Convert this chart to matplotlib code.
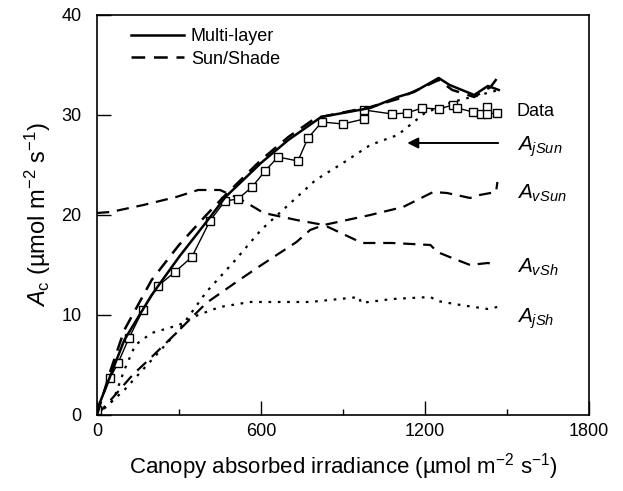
import matplotlib
matplotlib.use("Agg")
import matplotlib.pyplot as plt
from matplotlib.ticker import MultipleLocator

plt.rcParams['font.family'] = ['Liberation Sans', 'DejaVu Sans']
plt.rcParams['mathtext.fontset'] = 'custom'
plt.rcParams['mathtext.rm'] = 'Liberation Sans'
plt.rcParams['mathtext.it'] = 'Liberation Sans:italic'

# Measured data (squares)
data_x = [0, 48, 77, 117, 168, 223, 285, 347, 413, 468, 516, 567, 615, 662, 735,
          772, 823, 900, 977, 977, 1080, 1134, 1189, 1251, 1302, 1317, 1376, 1405,
          1427, 1427, 1464]
data_y = [0.5, 3.7, 5.2, 7.7, 10.5, 12.9, 14.3, 15.8, 19.4, 21.4, 21.6, 22.8, 24.4,
          25.8, 25.4, 27.7, 29.3, 29.1, 29.6, 30.5, 30.1, 30.2, 30.7, 30.6, 31.0,
          30.7, 30.3, 30.1, 30.8, 30.1, 30.2]

# Multi-layer model (total)
multi_x = [0, 50, 100, 200, 300, 400, 470, 600, 700, 820, 1000, 1100, 1160, 1250,
           1290, 1380, 1430, 1470]
multi_y = [0.5, 4.0, 7.5, 12.0, 15.8, 19.3, 21.8, 25.2, 27.5, 29.8, 30.7, 31.8,
           32.3, 33.7, 33.0, 32.0, 32.9, 32.5]

# Sun/Shade model (total)
sunsh_x = [0, 50, 100, 200, 300, 400, 470, 600, 700, 800, 1000, 1100, 1250, 1300,
           1380, 1440, 1470]
sunsh_y = [0, 4.5, 8.5, 13.5, 17.0, 20.0, 22.0, 25.5, 27.8, 29.7, 30.8, 31.6, 33.5,
           32.5, 31.8, 32.8, 33.9]

# Components
jsun_x = [0, 100, 200, 300, 400, 500, 600, 700, 800, 900, 1000, 1100, 1200, 1300,
          1400, 1470]
jsun_y = [0, 2.5, 5.5, 8.5, 12.3, 15.3, 18.5, 21.0, 23.5, 25.2, 27.0, 28.0, 30.2,
          31.3, 32.0, 32.5]

vsun_x = [0, 60, 130, 200, 290, 400, 510, 585, 730, 780, 830, 1000, 1120, 1230,
          1280, 1365, 1400, 1460, 1465]
vsun_y = [0, 1.8, 4.0, 5.8, 8.2, 11.2, 13.3, 14.7, 17.3, 18.5, 19.0, 20.0, 20.8,
          22.3, 22.2, 21.7, 22.0, 22.3, 23.3]

vsh_x = [0, 50, 170, 290, 370, 450, 530, 610, 730, 830, 970, 1080, 1220, 1245,
         1290, 1365, 1430, 1465]
vsh_y = [20.2, 20.3, 21.0, 21.8, 22.5, 22.5, 21.5, 20.2, 19.5, 19.0, 17.2, 17.2,
         17.0, 16.3, 15.8, 15.0, 15.2, 15.0]

jsh_x = [0, 60, 100, 140, 200, 300, 370, 450, 560, 780, 960, 965, 1080, 1220,
         1245, 1330, 1430, 1465]
jsh_y = [0, 1.5, 4.5, 7.0, 8.2, 9.0, 10.0, 10.8, 11.3, 11.3, 11.8, 11.2, 11.6,
         11.8, 11.4, 11.0, 10.6, 10.8]

fig = plt.figure(figsize=(6.23, 4.91), dpi=100)
ax = fig.add_axes([0.1557, 0.1548, 0.7897, 0.8147])

long_dash = (0, (5.5, 3.5))
dots = (0, (1.2, 3))

ax.plot(jsun_x, jsun_y, color='black', lw=1.6, linestyle=dots)
ax.plot(jsh_x, jsh_y, color='black', lw=1.6, linestyle=dots)
ax.plot(vsun_x, vsun_y, color='black', lw=1.6, linestyle=long_dash)
ax.plot(vsh_x, vsh_y, color='black', lw=1.6, linestyle=long_dash)
ax.plot(data_x, data_y, color='black', lw=1.0, marker='s', markersize=6,
        markerfacecolor='white', markeredgecolor='black', markeredgewidth=1.0)
ax.plot(sunsh_x, sunsh_y, color='black', lw=1.8, linestyle=long_dash,
        label='Sun/Shade')
ax.plot(multi_x, multi_y, color='black', lw=1.8, label='Multi-layer')

h, l = ax.get_legend_handles_labels()
ax.legend(h[::-1], l[::-1], loc='upper left', frameon=False, fontsize=13,
          handlelength=2.9, handletextpad=0.4, labelspacing=0.3,
          bbox_to_anchor=(0.055, 0.985), borderaxespad=0)

# labels on the right
ax.text(1535, 30.3, 'Data', fontsize=13, va='center', ha='left')
ax.text(1535, 26.8, r'$A_{jSun}$', fontsize=15, va='center', ha='left')
ax.text(1535, 22.2, r'$A_{vSun}$', fontsize=15, va='center', ha='left')
ax.text(1535, 14.8, r'$A_{vSh}$', fontsize=15, va='center', ha='left')
ax.text(1535, 9.6, r'$A_{jSh}$', fontsize=15, va='center', ha='left')
ax.annotate('', xy=(1125, 27.2), xytext=(1478, 27.2),
            arrowprops=dict(arrowstyle='-|>', color='black', lw=1.4,
                            mutation_scale=16))

ax.set_xlim(0, 1800)
ax.set_ylim(0, 40)
ax.xaxis.set_major_locator(MultipleLocator(600))
ax.xaxis.set_minor_locator(MultipleLocator(300))
ax.yaxis.set_major_locator(MultipleLocator(10))
ax.tick_params(axis='both', which='major', direction='in', length=10, width=1.0,
               labelsize=13)
ax.tick_params(axis='x', which='minor', direction='in', length=4, width=1.0)
ax.tick_params(axis='x', which='major', pad=6)
ax.tick_params(axis='y', which='major', pad=11)
for s in ax.spines.values():
    s.set_linewidth(1.2)

ax.set_xlabel(r'Canopy absorbed irradiance (µmol m$^{-2}$ s$^{-1}$)', fontsize=16,
              labelpad=8)
ax.set_ylabel(r'$A_{\mathrm{c}}$ (µmol m$^{-2}$ s$^{-1}$)', fontsize=17, labelpad=6)

fig.savefig('out.png', dpi=100)
